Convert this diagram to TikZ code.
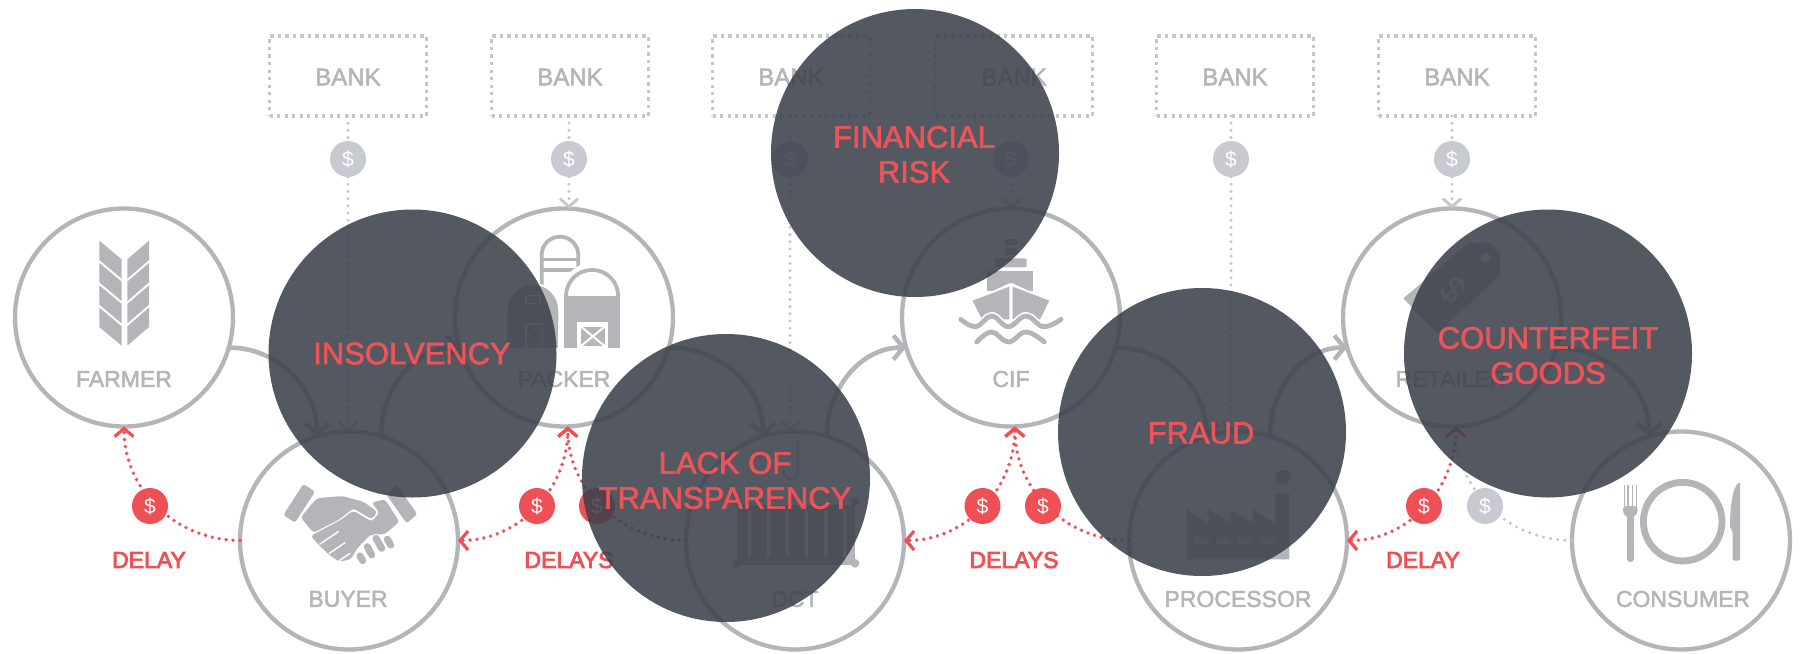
\documentclass[tikz,border=0pt]{standalone}
\usepackage{fontspec}
\setmainfont{Liberation Sans}
\usetikzlibrary{arrows.meta,positioning,calc}
\definecolor{ring}{HTML}{B4B5B8}
\definecolor{bankgrey}{HTML}{C6C7CB}
\definecolor{coingrey}{HTML}{C8CAD1}
\definecolor{redc}{HTML}{EF5056}
\definecolor{darkc}{HTML}{3B404A}
\definecolor{risktxt}{HTML}{EE5359}
\tikzset{
  x=1pt,y=1pt,
  heavier/.style={execute at begin node={\special{pdf:code q 2 Tr #1 w}},execute at end node={\special{pdf:code Q}}},
  ringnode/.style={circle,draw=ring,line width=4.3pt,minimum size=218pt,inner sep=0pt,outer sep=0pt},
  ringlabel/.style={text=ring,inner sep=0pt,heavier=0.5,font=\fontsize{23}{28}\selectfont},
  bankbox/.style={draw=bankgrey,line width=3.2pt,dash pattern=on 3.2pt off 4.3pt,minimum width=157pt,minimum height=80pt,inner sep=0pt,outer sep=0pt},
  banklabel/.style={text=ring,inner sep=0pt,heavier=0.5,font=\fontsize{24}{28}\selectfont},
  coinbase/.style={circle,minimum size=36pt,inner sep=0pt,outer sep=0pt,text=white,font=\fontsize{21}{24}\selectfont},
  coinred/.style={coinbase,fill=redc},
  coinlight/.style={coinbase,fill=coingrey},
  flow/.style={draw=ring,line width=4.6pt,-{Straight Barb[length=10pt,width=24pt,line width=4.4pt]}},
  gdot/.style={draw=bankgrey,line width=3.4pt,line cap=round,dash pattern=on 0pt off 7.2pt},
  gdota/.style={gdot,-{Straight Barb[length=8pt,width=18pt,line width=2.8pt]}},
  rdot/.style={draw=redc,line width=3.8pt,line cap=round,dash pattern=on 0pt off 7pt},
  rtip/.style={-{Straight Barb[length=8pt,width=19pt,line width=3.2pt]}},
  rtipb/.style={{Straight Barb[length=8pt,width=19pt,line width=3.2pt]}-{Straight Barb[length=8pt,width=19pt,line width=3.2pt]}},
  delay/.style={text=redc,inner sep=0pt,heavier=0.8,font=\fontsize{23}{26}\selectfont},
  riskdisc/.style={circle,fill=darkc,fill opacity=.87,minimum size=288pt,inner sep=0pt,outer sep=0pt},
  risklabel/.style={text=risktxt,inner sep=0pt,align=center,heavier=0.6,font=\fontsize{31}{35}\selectfont},
  zoomed/.style={x=0.33333pt,y=-0.33333pt},
}
\begin{document}
\begin{tikzpicture}
\useasboundingbox (0,0) rectangle (1801,-653);
\fill[white] (0,0) rectangle (1801,-653);

% rings
\node[ringnode] (farmer) at (124,-317.5) {};
\node[ringnode] (buyer) at (349,-540.5) {};
\node[ringnode] (packer) at (564,-317.5) {};
\node[ringnode] (dct) at (795,-540.5) {};
\node[ringnode] (cif) at (1011,-317.5) {};
\node[ringnode] (processor) at (1238,-540.5) {};
\node[ringnode] (retailer) at (1452,-317.5) {};
\node[ringnode] (consumer) at (1681,-540.5) {};

\node[ringlabel] (lfarmer) at (124,-379) {FARMER};
\node[ringlabel] (lbuyer) at (348,-599) {BUYER};
\node[ringlabel] (lpacker) at (564,-379) {PACKER};
\node[ringlabel] (ldct) at (795,-599) {DCT};
\node[ringlabel] (lcif) at (1011,-379) {CIF};
\node[ringlabel] (lprocessor) at (1238,-599) {PROCESSOR};
\node[ringlabel] (lretailer) at (1451,-379) {RETAILER};
\node[ringlabel] (lconsumer) at (1683,-599) {CONSUMER};

% banks
\foreach \n/\x in {1/348,2/570,3/791,4/1014,5/1235,6/1457}{
  \node[bankbox] (bank\n) at (\x,-76) {};
  \node[banklabel] (lbank\n) at (\x,-77) {BANK};
}
\node[coinlight] (c1) at (348,-159) {\$};
\node[coinlight] (c2) at (569,-159) {\$};
\node[coinlight] (c3) at (790,-159) {\$};
\node[coinlight] (c4) at (1011,-159) {\$};
\node[coinlight] (c5) at (1231,-159) {\$};
\node[coinlight] (c6) at (1452,-159) {\$};
\foreach \n/\t in {1/buyer,2/packer,3/dct,4/cif,5/processor,6/retailer}{
  \draw[gdot] (c\n |- bank\n.south) -- (c\n);
  \draw[gdota] (c\n) -- (c\n |- \t.north);
}

% flow arcs
\draw[flow] (farmer.-16) to[out=0,in=90] (buyer.107);
\draw[flow] (buyer.73) to[out=90,in=180] (packer.196);
\draw[flow] (packer.-16) to[out=0,in=90] (dct.107);
\draw[flow] (dct.73) to[out=90,in=180] (cif.196);
\draw[flow] (cif.-16) to[out=0,in=90] (processor.107);
\draw[flow] (processor.73) to[out=90,in=180] (retailer.196);
\draw[flow] (retailer.-16) to[out=0,in=90] (consumer.107);

% red flows
\draw[rdot,rtip] (buyer.west) to[out=180,in=-90] (farmer.south);
\draw[rdot,rtipb] (packer.-88) to[out=-90,in=0] (buyer.east);
\draw[rdot,rtip] (dct.west) to[out=180,in=-90] (packer.-88);
\draw[rdot,rtipb] (cif.-88) to[out=-90,in=0] (dct.east);
\draw[rdot,rtip] (processor.west) to[out=180,in=-90] (cif.-88);
\draw[gdot,-{Straight Barb[length=8pt,width=18pt,line width=2.8pt]}] (consumer.west) to[out=180,in=-90] (retailer.-88);
\draw[rdot,rtipb] (retailer.-88) to[out=-90,in=0] (processor.east);
\node[coinred] (r1) at (150,-506) {\$};
\node[coinred] (r2) at (537,-506) {\$};
\node[coinred] (r3) at (597,-506) {\$};
\node[coinred] (r4) at (982.5,-506) {\$};
\node[coinred] (r5) at (1043,-506) {\$};
\node[coinred] (r6) at (1424,-506) {\$};
\node[coinlight] (g7) at (1485,-506) {\$};
\node[delay] (d1) at (149,-560) {DELAY};
\node[delay] (d2) at (569,-560) {DELAYS};
\node[delay] (d3) at (1014,-560) {DELAYS};
\node[delay] (d4) at (1423,-560) {DELAY};

% wheat
\begin{scope}[shift={(80,-220)},zoomed]
\foreach \k in {0,1,2,3}{
  \fill[ring] (58,{62+67*\k}) -- (125,{118+67*\k}) -- (125,{176+67*\k}) -- (58,{120+67*\k}) -- cycle;
  \fill[ring] (207,{62+67*\k}) -- (142,{118+67*\k}) -- (142,{176+67*\k}) -- (207,{120+67*\k}) -- cycle;
}
\end{scope}

% barn
\begin{scope}[shift={(490,-220)},zoomed]
\draw[ring,line width=3.8pt] (155,230) -- (155,105) arc[start angle=180,end angle=0,radius=18.3pt] -- (265,180);
\draw[ring,line width=3.6pt] (155,118) -- (265,118) (155,150) -- (265,150);
\filldraw[fill=ring,draw=white,line width=1.6pt] (50,385) -- (50,270) arc[start angle=180,end angle=0,radius=26.2pt] -- (207,385) -- cycle;
\draw[white,line width=1.4pt] (108,226) rectangle (150,250);
\draw[white,line width=1.4pt] (108,385) -- (108,312) -- (158,312) -- (158,385);
\draw[white,line width=1.4pt] (108,345) -- (120,345);
\fill[white] (215,385) -- (215,220) arc[start angle=180,end angle=0,radius=30.5pt] -- (398,385) -- cycle;
\draw[ring,line width=3.8pt] (228,228) arc[start angle=180,end angle=0,radius=26.1pt];
\fill[ring] (222,228) rectangle (391,385);
\fill[white] (262,307) rectangle (355,388);
\fill[ring] (273,320) rectangle (344,378);
\draw[white,line width=2pt] (273,320) -- (344,378) (273,378) -- (344,320);
\end{scope}

% handshake
\begin{scope}[shift={(270,-470)},zoomed]
\fill[ring,rounded corners=2.5pt] (100,42) -- (135,65) -- (75,158) -- (40,135) -- cycle;
\fill[ring,rounded corners=2.5pt] (380,45) -- (442,132) -- (410,160) -- (350,75) -- cycle;
\fill[ring,rounded corners=3pt] (140,85) -- (215,78) -- (280,95) -- (322,125) -- (305,148) -- (250,115) -- (205,150) -- (130,188) -- (92,142) -- cycle;
\fill[ring,rounded corners=3pt] (305,98) -- (345,88) -- (388,155) -- (345,192) -- (300,195) -- (262,235) -- (242,268) -- (208,275) -- (178,255) -- (150,228) -- (122,198) -- (212,150) -- (250,122) -- (305,155) -- (328,128) -- cycle;
\draw[white,line width=1.4pt,line cap=round] (205,185) -- (150,222) (225,218) -- (178,250) (240,250) -- (208,272);
\draw[white,line width=9pt,line cap=round] (352,208) -- (362,225) (318,205) -- (335,235) (292,230) -- (305,255) (270,258) -- (278,272);
\draw[ring,line width=7pt,line cap=round] (352,208) -- (362,225) (318,205) -- (335,235) (292,230) -- (305,255) (270,258) -- (278,272);
\end{scope}

% container
\begin{scope}[shift={(720,-450)},zoomed]
\fill[ring] (50,165) rectangle (405,345);
\foreach \x in {88,145,203,260,318,375}{\fill[white] (\x-5,180) rectangle (\x+5,322);}
\fill[ring] (50,340) circle (4.4pt);
\fill[ring] (405,340) circle (4.4pt);
\fill[ring] (405,155) circle (4.4pt);
\fill[ring] (50,155) circle (4.4pt);
\draw[ring,line width=1.6pt] (233,-30) -- (233,65) (233,65) arc[start angle=0,end angle=-200,radius=7pt];
\end{scope}

% ship
\begin{scope}[shift={(950,-230)},zoomed]
\fill[ring] (165,28) rectangle (200,44);
\fill[ring] (165,55) rectangle (200,74);
\fill[ring,rounded corners=1.5pt] (135,85) rectangle (230,112);
\fill[ring] (112,122) rectangle (250,182);
\fill[white] (60,215) -- (178,160) -- (188,160) -- (306,215) -- (275,275) -- (90,275) -- cycle;
\fill[ring] (68,212) -- (178,170) -- (178,268) -- (96,268) -- cycle;
\fill[ring] (188,170) -- (298,212) -- (270,268) -- (188,268) -- cycle;
\draw[white,line width=8pt,line cap=round] plot[smooth,tension=0.7] coordinates {(32,268) (78,290) (125,258) (175,290) (228,258) (280,290) (333,268)};
\draw[ring,line width=4.8pt,line cap=round] plot[smooth,tension=0.7] coordinates {(32,268) (78,290) (125,258) (175,290) (228,258) (280,290) (333,268)};
\draw[ring,line width=4.8pt,line cap=round] plot[smooth,tension=0.7] coordinates {(80,336) (125,306) (175,336) (228,306) (283,336)};
\end{scope}

% factory
\begin{scope}[shift={(1170,-460)},zoomed]
\fill[ring] (50,148) -- (115,190) -- (115,148) -- (182,190) -- (182,148) -- (248,190) -- (248,148) -- (315,190) -- (315,100) -- (358,100) -- (358,298) -- (50,298) -- cycle;
\fill[ring] (338,52) circle (7.5pt);
\foreach \x in {72,138,205,272}{\fill[white,opacity=.6] (\x,232) rectangle (\x+44,252);}
\end{scope}

% tag
\begin{scope}[shift={(1390,-230)},zoomed]
\fill[ring] (40,205) -- (235,40) -- (300,38) -- (330,68) -- (330,135) -- (142,310) -- cycle;
\fill[white] (287,83) circle (5pt);
\node[text=white,rotate=-45,inner sep=0pt,font=\fontsize{36}{40}\selectfont] (tagdollar) at (190,180) {\$};
\end{scope}

% cutlery
\begin{scope}[shift={(1610,-470)},zoomed]
\foreach \x in {43,54,67,79}{\draw[ring,line width=1.7pt] (\x,45) -- (\x,120);}
\fill[ring,rounded corners=3pt] (39,108) -- (83,108) -- (83,130) -- (70,142) -- (50,142) -- (39,130) -- cycle;
\draw[ring,line width=7pt,line cap=round] (60,140) -- (60,266);
\draw[ring,line width=6.8pt] (218,155) circle (39.3pt);
\fill[ring,rounded corners=1.5pt] (390,36) .. controls (372,48) and (360,90) .. (360,175) -- (368,182) -- (368,272) -- (390,272) -- cycle;
\end{scope}

% risk discs
\node[riskdisc] (insolvency) at (412.5,-353.5) {};
\node[riskdisc] (financial) at (915,-153) {};
\node[riskdisc] (lack) at (726,-478) {};
\node[riskdisc] (fraud) at (1202,-432) {};
\node[riskdisc] (counterfeit) at (1548,-353.5) {};
\node[risklabel] (tinsolvency) at (412,-353.5) {INSOLVENCY};
\node[risklabel] (tfinancial) at (914,-154.5) {FINANCIAL\\RISK};
\node[risklabel] (tlack) at (725,-480.5) {LACK OF\\TRANSPARENCY};
\node[risklabel] (tfraud) at (1201,-433) {FRAUD};
\node[risklabel] (tcounterfeit) at (1548,-355.5) {COUNTERFEIT\\GOODS};
\end{tikzpicture}
\end{document}
